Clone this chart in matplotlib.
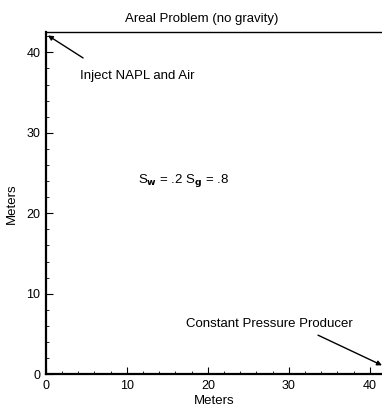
import matplotlib
matplotlib.use('agg')
import matplotlib.pyplot as plt

plt.rcParams['font.family'] = ['Liberation Sans', 'DejaVu Sans']

# grid extent (meters)
x_max = 41.5
y_max = 42.5
x_ticks = [0, 10, 20, 30, 40]
y_ticks = [0, 10, 20, 30, 40]

# well annotations: label, text point, arrow tail, arrow head
inject_label = 'Inject NAPL and Air'
inject_text = (4.2, 37.1)
inject_tail = (4.6, 39.3)
inject_head = (0.25, 42.1)
producer_label = 'Constant Pressure Producer'
producer_text = (17.3, 6.2)
producer_tail = (33.6, 4.85)
producer_head = (41.5, 1.1)
sat_text = r'S$_{\bf w}$ = .2 S$_{\bf g}$ = .8'
sat_pos = (11.4, 24.1)

fig = plt.figure(figsize=(3.82, 4.13), dpi=100)
ax = fig.add_axes([0.120, 0.094, 0.880, 0.828])
ax.set_xlim(0, x_max)
ax.set_ylim(0, y_max)

ax.spines['right'].set_visible(False)
ax.spines['left'].set_linewidth(1.6)
ax.spines['bottom'].set_linewidth(1.6)
ax.spines['top'].set_linewidth(1.0)

ax.set_xticks(x_ticks)
ax.set_yticks(y_ticks)
ax.set_xticks(range(0, 42, 2), minor=True)
ax.set_yticks(range(0, 43, 2), minor=True)
ax.tick_params(which='major', direction='in', length=5, width=0.8, labelsize=9, pad=4)
ax.tick_params(which='minor', direction='in', length=2.5, width=0.6)
ax.tick_params(top=False, right=False, which='both')

fs = 9.5
ax.set_title('Areal Problem (no gravity)', fontsize=fs, pad=7, x=0.464)
ax.set_xlabel('Meters', fontsize=fs, labelpad=2)
ax.set_ylabel('Meters', fontsize=fs, labelpad=6)

arrow = dict(arrowstyle='-|>', color='black', lw=1.0,
             shrinkA=0, shrinkB=0, mutation_scale=7)
ax.annotate('', xy=inject_head, xytext=inject_tail, arrowprops=arrow)
ax.text(*inject_text, inject_label, fontsize=fs, ha='left', va='center')
ax.annotate('', xy=producer_head, xytext=producer_tail, arrowprops=arrow,
            annotation_clip=False)
ax.text(*producer_text, producer_label, fontsize=fs, ha='left', va='center')
ax.text(*sat_pos, sat_text, fontsize=fs, ha='left', va='center')

plt.savefig('out.png')
